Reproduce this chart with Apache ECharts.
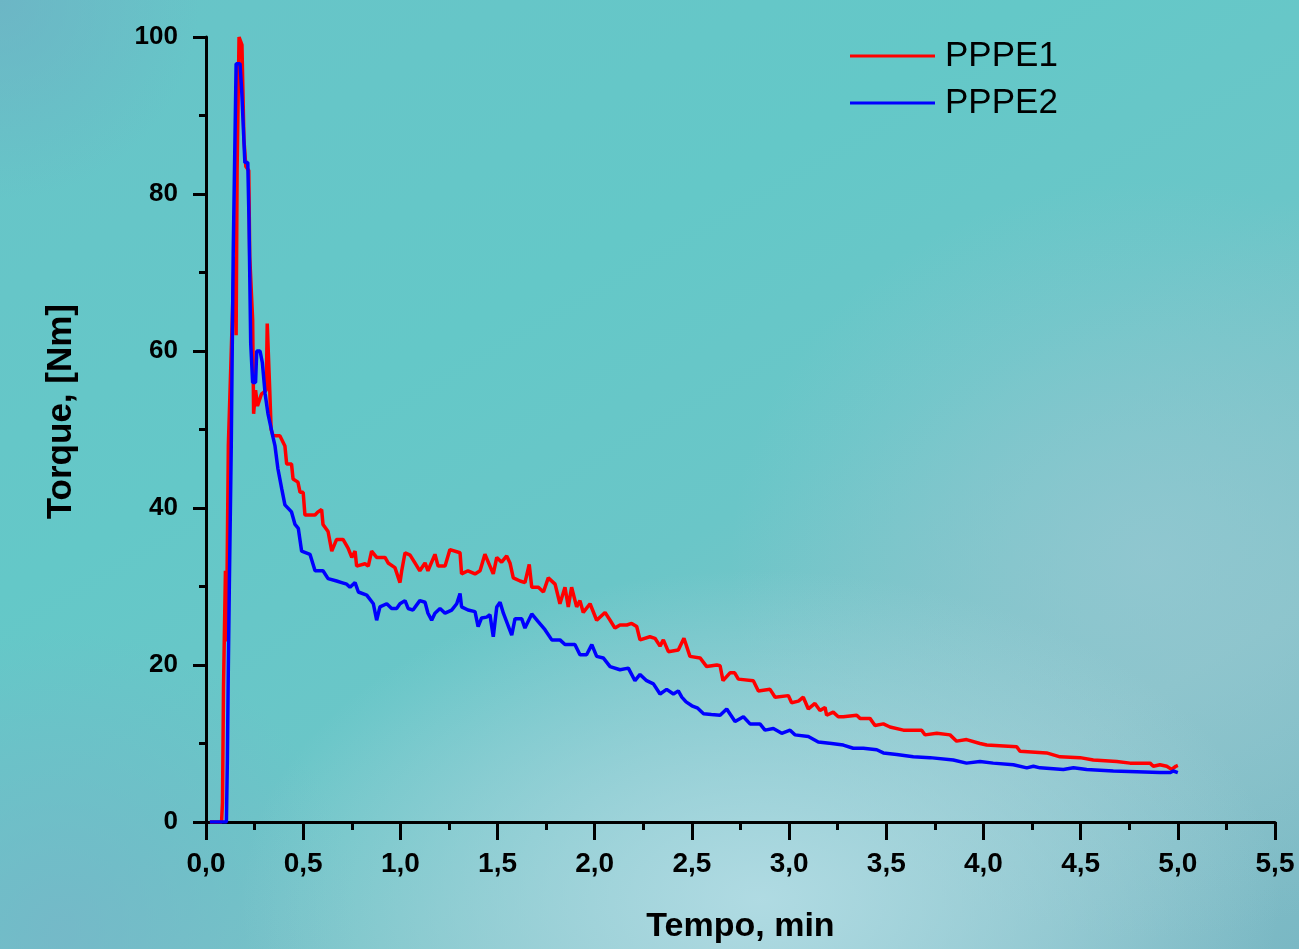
<!DOCTYPE html>
<html>
<head>
<meta charset="utf-8">
<script src="https://cdn.jsdelivr.net/npm/echarts@6/dist/echarts.min.js"></script>
<style>
html,body{margin:0;padding:0;width:1299px;height:949px;overflow:hidden;}
#bg{position:absolute;left:0;top:0;width:1299px;height:949px;
background:
 radial-gradient(ellipse 520px 330px at 760px 900px, rgba(178,220,228,0.95), rgba(178,220,228,0) 100%),
 radial-gradient(ellipse 420px 380px at 1150px 560px, rgba(150,200,210,0.75), rgba(150,200,210,0) 100%),
 radial-gradient(ellipse 300px 300px at 60px 930px, rgba(120,180,200,0.7), rgba(120,180,200,0) 100%),
 radial-gradient(ellipse 200px 200px at 0px 0px, rgba(110,176,196,0.7), rgba(110,176,196,0) 100%),
 linear-gradient(150deg, #68c4c8 0%, #64c8c8 35%, #6ac6c8 55%, #86c2c8 80%, #7ab8c4 100%);}
#chart{position:absolute;left:0;top:0;width:1299px;height:949px;}
</style>
</head>
<body>
<div id="bg"></div>
<div id="chart"></div>
<script>
// PPPE1 (red): [tempo min, torque Nm]
var pppe1 = [[0.02,0],[0.08,0],[0.085,2.5],[0.09,17],[0.1,32],[0.105,23],[0.115,48],[0.13,60],[0.145,72],[0.155,62],[0.16,83],[0.17,100],[0.185,99],[0.19,93],[0.195,87],[0.205,83.5],[0.22,83],[0.225,72],[0.24,64],[0.245,52],[0.255,55],[0.265,53],[0.285,54.5],[0.31,55],[0.315,63.5],[0.322,63.5],[0.328,55],[0.335,50],[0.345,49.2],[0.38,49.2],[0.406,47.9],[0.415,45.6],[0.44,45.6],[0.448,43.7],[0.473,43.3],[0.484,42],[0.5,42],[0.509,39.1],[0.561,39.1],[0.576,39.5],[0.595,39.8],[0.602,37.9],[0.628,37],[0.647,34.5],[0.672,36],[0.705,36],[0.731,34.9],[0.75,33.7],[0.767,34.5],[0.775,32.6],[0.818,32.9],[0.835,32.6],[0.852,34.5],[0.878,33.7],[0.921,33.7],[0.937,33],[0.972,32.4],[0.998,30.5],[1.007,32],[1.024,34.3],[1.05,34],[1.075,33],[1.1,32],[1.127,33],[1.142,32],[1.178,34.1],[1.194,32.6],[1.23,32.6],[1.255,34.7],[1.307,34.3],[1.315,31.6],[1.348,32],[1.384,31.6],[1.41,32],[1.435,34.1],[1.461,32.6],[1.478,31.6],[1.496,33.7],[1.521,33.1],[1.547,33.9],[1.564,33],[1.581,31.1],[1.616,30.7],[1.641,30.5],[1.663,32.8],[1.676,29.9],[1.71,29.9],[1.736,29.3],[1.761,31.1],[1.796,30.3],[1.821,27.8],[1.847,29.9],[1.864,27.4],[1.881,29.9],[1.907,27.4],[1.924,28.2],[1.941,26.7],[1.976,27.8],[2.01,25.7],[2.053,26.7],[2.079,25.7],[2.104,24.7],[2.13,25.1],[2.165,25.1],[2.19,25.3],[2.216,24.9],[2.233,23.2],[2.284,23.6],[2.31,23.4],[2.336,22.4],[2.353,23.2],[2.379,21.7],[2.43,21.9],[2.459,23.4],[2.49,21.1],[2.542,20.9],[2.576,19.8],[2.628,20],[2.645,19.9],[2.66,18],[2.696,19],[2.72,19],[2.739,18.2],[2.816,18],[2.842,16.7],[2.902,16.9],[2.928,15.9],[2.996,16.1],[3.013,15.2],[3.048,15.4],[3.073,15.9],[3.099,14.4],[3.133,15.1],[3.159,14.2],[3.185,14.6],[3.193,13.6],[3.227,14],[3.253,13.4],[3.279,13.4],[3.348,13.6],[3.365,13.2],[3.416,13.2],[3.442,12.3],[3.485,12.5],[3.519,12.1],[3.588,11.7],[3.682,11.7],[3.699,11.1],[3.76,11.3],[3.828,11.1],[3.862,10.3],[3.913,10.5],[3.982,10],[4.017,9.8],[4.171,9.6],[4.188,9],[4.325,8.8],[4.394,8.3],[4.497,8.2],[4.565,7.9],[4.686,7.7],[4.754,7.5],[4.857,7.5],[4.874,7.1],[4.908,7.3],[4.943,7.1],[4.968,6.7],[4.99,7.1],[5.0,7.2]];
// PPPE2 (blue)
var pppe2 = [[0.02,0],[0.105,0],[0.11,8],[0.115,20],[0.12,30],[0.13,48],[0.14,72.5],[0.15,72.5],[0.155,96.6],[0.175,96.6],[0.184,93],[0.2,84],[0.215,84],[0.221,77],[0.23,61],[0.24,56],[0.255,56],[0.261,60],[0.278,60],[0.29,58.5],[0.304,54.6],[0.319,52],[0.345,49],[0.355,47.9],[0.37,45],[0.39,42.4],[0.406,40.4],[0.44,39.5],[0.458,37.9],[0.475,37.4],[0.492,34.5],[0.535,34.1],[0.561,32],[0.602,32],[0.628,31],[0.672,30.7],[0.698,30.5],[0.724,30.3],[0.741,29.9],[0.767,30.5],[0.784,29.3],[0.827,28.9],[0.861,27.8],[0.878,25.7],[0.895,27.4],[0.93,27.8],[0.955,27.2],[0.981,27.2],[0.998,27.8],[1.024,28.2],[1.04,27.2],[1.065,27],[1.1,28.2],[1.127,28],[1.142,26.6],[1.161,25.7],[1.178,26.6],[1.204,27.2],[1.23,26.6],[1.264,27],[1.29,27.8],[1.307,29.1],[1.315,27.4],[1.348,27],[1.384,26.8],[1.4,24.9],[1.418,26],[1.444,26.1],[1.461,26.4],[1.478,23.6],[1.496,27.4],[1.513,28],[1.53,26.6],[1.573,23.8],[1.59,25.9],[1.624,25.9],[1.641,24.7],[1.676,26.5],[1.71,25.5],[1.744,24.5],[1.779,23.2],[1.821,23.2],[1.847,22.6],[1.898,22.6],[1.924,21.3],[1.958,21.3],[1.985,22.6],[2.01,21.1],[2.044,20.9],[2.079,19.8],[2.13,19.4],[2.173,19.6],[2.207,18],[2.233,18.8],[2.267,18],[2.302,17.6],[2.336,16.3],[2.37,16.9],[2.405,16.3],[2.43,16.7],[2.448,15.9],[2.47,15.3],[2.5,14.8],[2.53,14.5],[2.56,13.8],[2.6,13.7],[2.645,13.6],[2.679,14.4],[2.722,12.8],[2.765,13.4],[2.799,12.5],[2.85,12.5],[2.876,11.7],[2.919,11.9],[2.962,11.3],[3.005,11.7],[3.03,11.1],[3.099,10.9],[3.15,10.2],[3.219,10],[3.279,9.8],[3.33,9.4],[3.382,9.4],[3.451,9.2],[3.485,8.8],[3.554,8.6],[3.639,8.3],[3.725,8.2],[3.845,7.9],[3.913,7.5],[3.982,7.7],[4.05,7.5],[4.154,7.3],[4.223,6.9],[4.257,7.1],[4.291,6.9],[4.411,6.7],[4.463,6.9],[4.531,6.7],[4.668,6.5],[4.908,6.3],[4.96,6.3],[4.977,6.5],[5.0,6.3]];
var seriesNames = ['PPPE1', 'PPPE2'];
var xTitle = 'Tempo, min';
var yTitle = 'Torque, [Nm]';

var FONT = '"Liberation Sans", Arial, sans-serif';
var chart = echarts.init(document.getElementById('chart'), null, {renderer: 'canvas'});
chart.setOption({
  animation: false,
  backgroundColor: 'transparent',
  grid: {left: 206, right: 24, top: 37, bottom: 114, containLabel: false},
  legend: {
    orient: 'vertical', left: 845, top: 33,
    icon: 'rect', itemWidth: 85, itemHeight: 3, itemGap: 11,
    textStyle: {fontFamily: FONT, fontSize: 35, color: '#000', lineHeight: 36, padding: [0,0,0,5]},
    data: seriesNames
  },
  xAxis: {
    type: 'value', min: 0, max: 5.5, interval: 0.5,
    name: xTitle, nameLocation: 'middle', nameGap: 88,
    nameTextStyle: {fontFamily: FONT, fontSize: 34, fontWeight: 'bold', color: '#000'},
    axisLine: {show: true, onZero: false, lineStyle: {color: '#000', width: 3}},
    axisTick: {show: true, inside: false, length: 18, lineStyle: {color: '#000', width: 3}},
    minorTick: {show: true, splitNumber: 2, length: 8, lineStyle: {color: '#000', width: 3}},
    splitLine: {show: false},
    axisLabel: {margin: 28, fontFamily: FONT, fontSize: 28, fontWeight: 'bold', color: '#000',
      formatter: function (v) { return v.toFixed(1).replace('.', ','); }}
  },
  yAxis: {
    type: 'value', min: 0, max: 100, interval: 20,
    axisLine: {show: true, lineStyle: {color: '#000', width: 3}},
    axisTick: {show: true, inside: false, length: 13, lineStyle: {color: '#000', width: 3}},
    minorTick: {show: true, splitNumber: 2, length: 7, lineStyle: {color: '#000', width: 3}},
    splitLine: {show: false},
    axisLabel: {margin: 28, fontFamily: FONT, fontSize: 26, fontWeight: 'bold', color: '#000'}
  },
  graphic: [{
    type: 'text', left: 44, top: 418 - 114,
    rotation: Math.PI / 2,
    style: {text: yTitle, font: 'bold 35px ' + FONT, fill: '#000'}
  }],
  series: [
    {name: seriesNames[0], type: 'line', data: pppe1, symbol: 'none', showSymbol: false,
      lineStyle: {color: '#ff0000', width: 3.5}, itemStyle: {color: '#ff0000'}, z: 2},
    {name: seriesNames[1], type: 'line', data: pppe2, symbol: 'none', showSymbol: false,
      lineStyle: {color: '#0000ff', width: 3.5}, itemStyle: {color: '#0000ff'}, z: 3}
  ]
});
</script>
</body>
</html>
